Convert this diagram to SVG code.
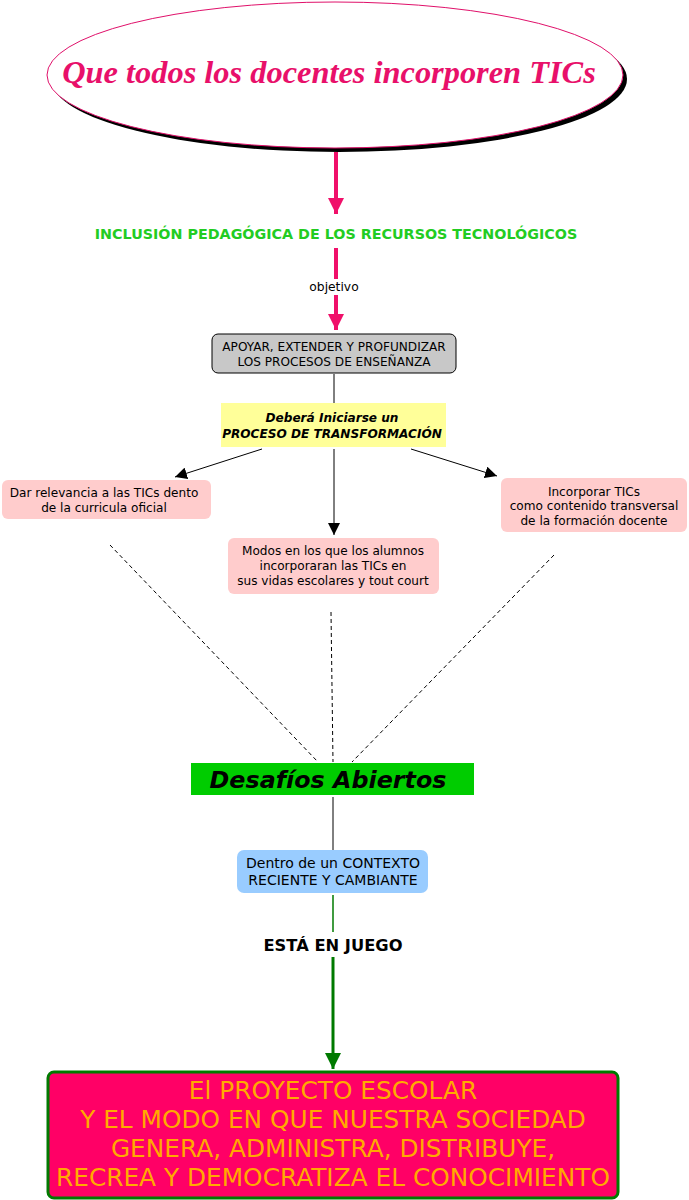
<svg xmlns="http://www.w3.org/2000/svg" width="689" height="1200" viewBox="0 0 689 1200">
<style>
.t{font-family:"DejaVu Sans",Verdana,sans-serif;text-anchor:middle;fill:#000}
.s{font-size:12.1px}
</style>
<defs>
<marker id="pk" markerUnits="userSpaceOnUse" markerWidth="18" markerHeight="16" refX="16" refY="8" orient="auto"><path d="M0,0 L16,8 L0,16 Z" fill="#f0106a"/></marker>
<marker id="bk" markerUnits="userSpaceOnUse" markerWidth="14" markerHeight="12" refX="12" refY="6" orient="auto"><path d="M0,0 L12,6 L0,12 Z" fill="#000"/></marker>
<marker id="gn" markerUnits="userSpaceOnUse" markerWidth="18" markerHeight="16" refX="16" refY="8" orient="auto"><path d="M0,0 L16,8 L0,16 Z" fill="#007a00"/></marker>
</defs>
<rect width="689" height="1200" fill="#fff"/>
<g id="connectors">
<line x1="336" y1="152" x2="336" y2="214" stroke="#f0106a" stroke-width="4" marker-end="url(#pk)"/>
<line x1="336" y1="248" x2="336" y2="279" stroke="#f0106a" stroke-width="4"/>
<line x1="336" y1="295" x2="336" y2="330" stroke="#f0106a" stroke-width="4" marker-end="url(#pk)"/>
<text class="t" x="334" y="291" font-size="12.3">objetivo</text>
<line x1="334" y1="374" x2="334" y2="403" stroke="#000" stroke-width="1"/>
<line x1="262" y1="449" x2="175" y2="477" stroke="#000" stroke-width="1" marker-end="url(#bk)"/>
<line x1="334" y1="449" x2="334" y2="535" stroke="#000" stroke-width="1" marker-end="url(#bk)"/>
<line x1="411" y1="449" x2="497" y2="476" stroke="#000" stroke-width="1" marker-end="url(#bk)"/>
<g stroke="#000" stroke-width="1" stroke-dasharray="4,3" fill="none">
<line x1="110" y1="545" x2="318" y2="762"/>
<line x1="331" y1="612" x2="333" y2="762"/>
<line x1="554" y1="555" x2="352" y2="762"/>
</g>
<line x1="333" y1="797" x2="333" y2="850" stroke="#000" stroke-width="1"/>
<line x1="333" y1="895" x2="333" y2="932" stroke="#007a00" stroke-width="1.5"/>
<line x1="333" y1="957" x2="333" y2="1069" stroke="#007a00" stroke-width="3" marker-end="url(#gn)"/>
<text class="t" x="333" y="951" font-size="16.3" font-weight="bold">ESTÁ EN JUEGO</text>
</g>
<g id="n-title">
<ellipse cx="339" cy="79" rx="288" ry="73" fill="#000"/>
<ellipse cx="335" cy="75" rx="288" ry="73" fill="#fff" stroke="#e0106a" stroke-width="1"/>
<text x="329" y="83" font-family="'Liberation Serif','Times New Roman',serif" font-style="italic" font-weight="bold" font-size="32.4" fill="#e8106a" text-anchor="middle">Que todos los docentes incorporen TICs</text>
</g>
<g id="n-inclusion">
<text class="t" x="336" y="239" font-size="14.3" font-weight="bold" style="fill:#22cc22">INCLUSIÓN PEDAGÓGICA DE LOS RECURSOS TECNOLÓGICOS</text>
</g>
<g id="n-apoyar">
<rect x="212" y="334" width="244" height="39" rx="6" fill="#c8c8c8" stroke="#000" stroke-width="1"/>
<text class="t s" x="334" y="351">APOYAR, EXTENDER Y PROFUNDIZAR</text>
<text class="t s" x="334" y="366">LOS PROCESOS DE ENSEÑANZA</text>
</g>
<g id="n-proceso">
<rect x="221" y="403" width="225" height="44" fill="#ffff99"/>
<text class="t s" x="332" y="422" font-weight="bold" font-style="italic">Deberá Iniciarse un</text>
<text class="t s" x="332" y="438" font-weight="bold" font-style="italic">PROCESO DE TRANSFORMACIÓN</text>
</g>
<g id="n-dar">
<rect x="2" y="480" width="209" height="39" rx="6" fill="#ffcccc"/>
<text class="t s" x="104" y="497">Dar relevancia a las TICs dento</text>
<text class="t s" x="104" y="512">de la curricula oficial</text>
</g>
<g id="n-modos">
<rect x="228" y="538" width="211" height="56" rx="6" fill="#ffcccc"/>
<text class="t s" x="333" y="555">Modos en los que los alumnos</text>
<text class="t s" x="333" y="570">incorporaran las TICs en</text>
<text class="t s" x="333" y="585">sus vidas escolares y tout court</text>
</g>
<g id="n-incorporar">
<rect x="501" y="478" width="186" height="54" rx="6" fill="#ffcccc"/>
<text class="t s" x="594" y="496">Incorporar TICs</text>
<text class="t s" x="594" y="510">como contenido transversal</text>
<text class="t s" x="594" y="525">de la formación docente</text>
</g>
<g id="n-desafios">
<rect x="191" y="763" width="283" height="32" fill="#00cc00"/>
<text class="t" x="328" y="788" font-size="23.8" font-weight="bold" font-style="italic">Desafíos Abiertos</text>
</g>
<g id="n-contexto">
<rect x="237" y="850" width="191" height="43" rx="7" fill="#99ccff"/>
<text class="t" x="333" y="868" font-size="14">Dentro de un CONTEXTO</text>
<text class="t" x="333" y="885" font-size="14">RECIENTE Y CAMBIANTE</text>
</g>
<g id="n-proyecto">
<rect x="48" y="1072" width="570" height="126" rx="6" fill="#ff0066" stroke="#007a00" stroke-width="3"/>
<g font-family="'DejaVu Sans',Verdana,sans-serif" font-size="24.8" fill="#ffaa00" text-anchor="middle">
<text x="333" y="1099">El PROYECTO ESCOLAR</text>
<text x="333" y="1128">Y EL MODO EN QUE NUESTRA SOCIEDAD</text>
<text x="333" y="1157">GENERA, ADMINISTRA, DISTRIBUYE,</text>
<text x="333" y="1186">RECREA Y DEMOCRATIZA EL CONOCIMIENTO</text>
</g>
</g>
</svg>
